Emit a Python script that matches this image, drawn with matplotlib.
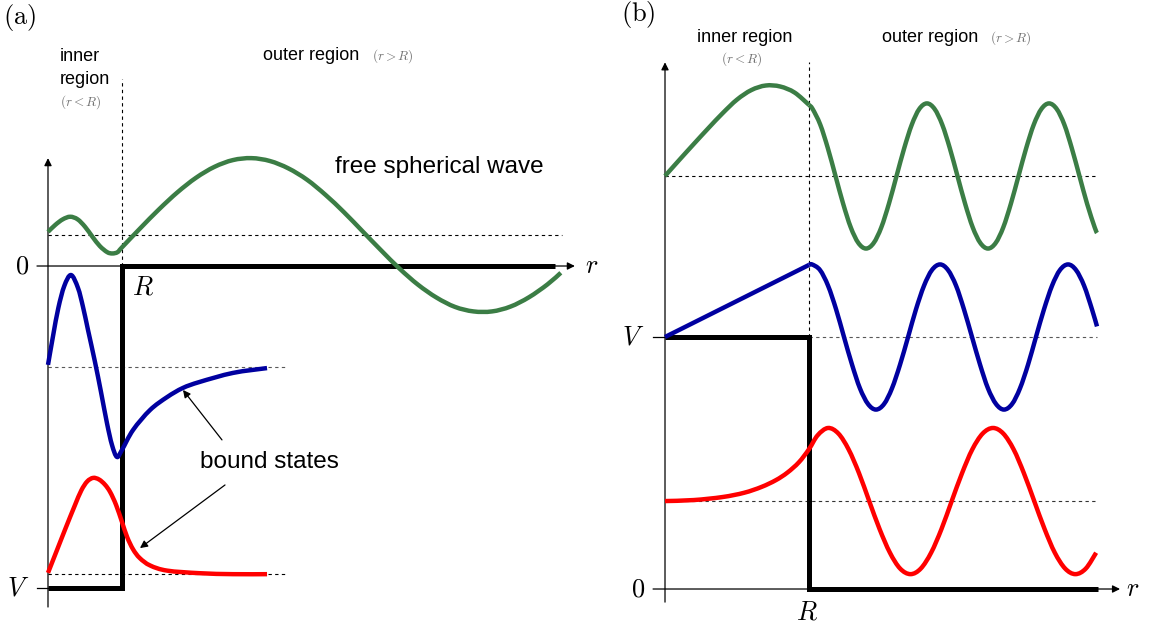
import numpy as np
import matplotlib
matplotlib.use("Agg")
import matplotlib.pyplot as plt
from matplotlib.path import Path
from matplotlib.patches import PathPatch

plt.rcParams['font.family'] = ['Liberation Sans', 'DejaVu Sans']
plt.rcParams['mathtext.fontset'] = 'cm'

# (a) 井戸型ポテンシャル: r は R 単位, 縦軸は V = -10
R_a = 1.0
V_a = -10.0
r_end_a = 6.85

# 自由球面波
E_green_a = 0.96
r_green_in = [0, 0.1, 0.2, 0.3, 0.4, 0.5, 0.6, 0.7, 0.8, 0.87, 0.94, 1.0]
psi_green_in = [1.06, 1.28, 1.45, 1.53, 1.45, 1.22, 0.91, 0.62, 0.43, 0.39, 0.43, 0.58]
r_green_out = [1.0, 1.25, 1.5, 1.75, 2.0, 2.25, 2.5, 2.75, 3.0, 3.25, 3.5, 3.75, 4.0,
               4.25, 4.5, 4.75, 5.0, 5.25, 5.5, 5.75, 6.0, 6.25, 6.5, 6.75, 6.93]
psi_green_out = [0.58, 1.18, 1.76, 2.29, 2.74, 3.08, 3.29, 3.35, 3.26, 3.03, 2.68, 2.21, 1.67,
                 1.08, 0.49, -0.08, -0.58, -0.98, -1.27, -1.41, -1.41, -1.26, -0.97, -0.57, -0.21]

# 束縛状態
E_blue_a = -3.14
r_blue = [0, 0.07, 0.14, 0.22, 0.311, 0.405, 0.473, 0.541, 0.635, 0.716, 0.797, 0.865, 0.932,
          1.0, 1.15, 1.38, 1.61, 1.82, 2.05, 2.5, 2.96]
psi_blue = [-3.07, -2.15, -1.30, -0.62, -0.28, -0.68, -1.27, -1.99, -2.98, -3.91, -4.88, -5.56, -5.93,
            -5.71, -5.09, -4.47, -4.07, -3.79, -3.60, -3.32, -3.17]

E_red_a = -9.57
r_red = [0, 0.12, 0.24, 0.36, 0.45, 0.53, 0.61, 0.69, 0.77, 0.84, 0.92, 1.0, 1.07, 1.15, 1.24,
         1.38, 1.61, 2.05, 2.5, 2.96]
psi_red = [-9.53, -8.83, -8.13, -7.45, -6.97, -6.69, -6.58, -6.63, -6.79, -7.02, -7.42, -7.95,
           -8.42, -8.80, -9.07, -9.30, -9.46, -9.54, -9.57, -9.57]

# (b) 障壁ポテンシャル: V = 10
R_b = 1.0
V_b = 10.0
r_end_b = 3.007

E_green_b = 16.39
r_green_b_in = [0, 0.1, 0.2, 0.3, 0.4, 0.5, 0.6, 0.7, 0.8, 0.9, 1.0]
psi_green_b_in = [16.39, 17.03, 17.66, 18.28, 18.88, 19.42, 19.80, 19.98, 19.94, 19.70, 19.21]
r_green_b_out = [1.0, 1.025, 1.078, 1.131, 1.184, 1.237, 1.290, 1.343, 1.396, 1.449, 1.502, 1.555,
                 1.608, 1.661, 1.714, 1.766, 1.819, 1.872, 1.925, 1.978, 2.031, 2.084, 2.137,
                 2.190, 2.243, 2.296, 2.349, 2.402, 2.455, 2.508, 2.561, 2.614, 2.667, 2.720,
                 2.773, 2.825, 2.878, 2.931, 2.984, 3.0]
psi_green_b_out = [19.21, 19.05, 18.43, 17.49, 16.39, 15.29, 14.35, 13.73, 13.51, 13.73, 14.35, 15.29,
                   16.39, 17.49, 18.43, 19.05, 19.27, 19.05, 18.43, 17.49, 16.39, 15.29, 14.35,
                   13.73, 13.51, 13.73, 14.35, 15.29, 16.39, 17.49, 18.43, 19.05, 19.27, 19.05,
                   18.43, 17.49, 16.39, 15.29, 14.35, 14.13]

r_blue_b_in = [0, 1.0]
psi_blue_b_in = [10.0, 12.86]
r_blue_b_out = [1.0, 1.021, 1.076, 1.132, 1.188, 1.243, 1.299, 1.354, 1.410, 1.465, 1.521, 1.576,
                1.632, 1.688, 1.743, 1.799, 1.854, 1.910, 1.965, 2.021, 2.076, 2.132, 2.188,
                2.243, 2.299, 2.354, 2.410, 2.465, 2.521, 2.576, 2.632, 2.688, 2.743, 2.799,
                2.854, 2.910, 2.965, 3.0]
psi_blue_b_out = [12.86, 12.88, 12.66, 12.04, 11.10, 10.00, 8.90, 7.96, 7.34, 7.12, 7.34, 7.96,
                  8.90, 10.00, 11.10, 12.04, 12.66, 12.88, 12.66, 12.04, 11.10, 10.00, 8.90,
                  7.96, 7.34, 7.12, 7.34, 7.96, 8.90, 10.00, 11.10, 12.04, 12.66, 12.88,
                  12.66, 12.04, 11.10, 10.42]

E_red_b = 3.49
r_red_b = [0, 0.2, 0.4, 0.55, 0.67, 0.77, 0.85, 0.93, 1.0,
           1.060, 1.132, 1.204, 1.275, 1.347, 1.418, 1.490, 1.562, 1.633, 1.705, 1.776,
           1.848, 1.920, 1.991, 2.063, 2.134, 2.206, 2.278, 2.349, 2.421, 2.492, 2.564,
           2.636, 2.707, 2.779, 2.850, 2.922, 2.994]
psi_red_b = [3.49, 3.53, 3.65, 3.82, 4.05, 4.32, 4.62, 5.03, 5.55,
             6.10, 6.39, 6.17, 5.54, 4.60, 3.49, 2.38, 1.44, 0.81, 0.59, 0.81, 1.44,
             2.38, 3.49, 4.60, 5.54, 6.17, 6.39, 6.17, 5.54, 4.60, 3.49, 2.38, 1.44,
             0.81, 0.59, 0.81, 1.44]

green = '#3b7d45'
blue = '#0000a0'
red = '#ff0000'
lw_psi = 3.2
lw_pot = 3.6
dash = (0, (3, 3))


def smooth_curve(ax, r, psi, color):
    # 点列を通る3次ベジェ曲線 (Catmull-Rom) で描く
    pts = np.column_stack([r, psi]).astype(float)
    ext = np.vstack([pts[0], pts, pts[-1]])
    verts = [pts[0]]
    for i in range(len(pts) - 1):
        p0, p1, p2, p3 = ext[i], ext[i + 1], ext[i + 2], ext[i + 3]
        verts += [p1 + (p2 - p0) / 6, p2 - (p3 - p1) / 6, p2]
    codes = [Path.MOVETO] + [Path.CURVE4] * (3 * (len(pts) - 1))
    ax.add_patch(PathPatch(Path(verts, codes), fill=False, edgecolor=color, lw=lw_psi,
                           capstyle='butt', joinstyle='round', zorder=4))


fig = plt.figure(figsize=(11.52, 6.32), dpi=100)
ax_a = fig.add_axes([0, 0, 600 / 1152, 1])
ax_b = fig.add_axes([600 / 1152, 0, 552 / 1152, 1])
for ax in (ax_a, ax_b):
    ax.axis('off')
ax_a.set_xlim(-0.6486, 7.4595)
ax_a.set_ylim(-11.366, 8.261)
ax_b.set_xlim(-0.4514, 3.3819)
ax_b.set_ylim(-1.706, 23.373)

arrow = dict(arrowstyle='-|>', color='k', lw=0.9, mutation_scale=11, shrinkA=0, shrinkB=0)


def axis_arrow(ax, start, end):
    ax.annotate('', xy=end, xytext=start, arrowprops=arrow)


# ---------------- (a) ----------------
ax = ax_a
axis_arrow(ax, (0, -10.59), (0, 3.35))
axis_arrow(ax, (-0.149, 0), (7.12, 0))
ax.plot([-0.149, 0], [V_a, V_a], color='k', lw=0.9)

ax.plot([0, R_a, R_a, r_end_a], [V_a, V_a, 0, 0], color='k', lw=lw_pot,
        solid_joinstyle='miter', solid_capstyle='butt', zorder=3)
ax.plot([R_a, R_a], [0, 5.81], color='k', lw=0.8, ls=dash)

ax.plot([0, 6.95], [E_green_a, E_green_a], color='k', lw=0.8, ls=dash)
ax.plot([0, 3.2], [E_blue_a, E_blue_a], color='0.35', lw=0.8, ls=dash)
ax.plot([0, 3.2], [E_red_a, E_red_a], color='k', lw=0.8, ls=dash)

smooth_curve(ax, r_green_in + r_green_out[1:], psi_green_in + psi_green_out[1:], green)
smooth_curve(ax, r_blue, psi_blue, blue)
smooth_curve(ax, r_red, psi_red, red)

ax.annotate('', xy=(1.824, -3.85), xytext=(2.351, -5.40), arrowprops=arrow)
ax.annotate('', xy=(1.243, -8.76), xytext=(2.392, -6.80), arrowprops=arrow)

ax.text(-0.378, 7.73, r'$(\mathrm{a})$', fontsize=19, ha='center', va='center')
ax.text(-0.35, 0, r'$0$', fontsize=19, ha='center', va='center')
ax.text(-0.405, V_a, r'$V$', fontsize=19, ha='center', va='center')
ax.text(1.284, -0.68, r'$R$', fontsize=19, ha='center', va='center')
ax.text(7.35, 0, r'$r$', fontsize=19, ha='center', va='center')

ax.text(0.162, 6.52, 'inner', fontsize=13, ha='left', va='center')
ax.text(0.162, 5.78, 'region', fontsize=13, ha='left', va='center')
ax.text(0.162, 5.09, r'$(r<R)$', fontsize=9.5, color='0.45', ha='left', va='center')
ax.text(2.905, 6.55, 'outer region', fontsize=13, ha='left', va='center')
ax.text(4.378, 6.52, r'$(r>R)$', fontsize=9.5, color='0.45', ha='left', va='center')
ax.text(3.878, 3.07, 'free spherical wave', fontsize=17.5, ha='left', va='center')
ax.text(2.054, -6.09, 'bound states', fontsize=17.5, ha='left', va='center')

# ---------------- (b) ----------------
ax = ax_b
axis_arrow(ax, (0, -0.52), (0, 20.9))
axis_arrow(ax, (-0.083, 0), (3.16, 0))
ax.plot([-0.083, 0], [V_b, V_b], color='k', lw=0.9)

ax.plot([0, R_b, R_b, r_end_b], [V_b, V_b, 0, 0], color='k', lw=lw_pot,
        solid_joinstyle='miter', solid_capstyle='butt', zorder=3)
ax.plot([R_b, R_b], [V_b, 20.9], color='k', lw=0.8, ls=dash)

ax.plot([0, 3.0], [E_green_b, E_green_b], color='k', lw=0.8, ls=dash)
ax.plot([R_b, 3.0], [V_b, V_b], color='0.35', lw=0.8, ls=dash)
ax.plot([0, 3.0], [E_red_b, E_red_b], color='0.2', lw=0.8, ls=dash)

# r = R で内側と外側の解をつなぐ
smooth_curve(ax, r_green_b_in, psi_green_b_in, green)
smooth_curve(ax, r_green_b_out, psi_green_b_out, green)
smooth_curve(ax, r_blue_b_in, psi_blue_b_in, blue)
smooth_curve(ax, r_blue_b_out, psi_blue_b_out, blue)
smooth_curve(ax, r_red_b, psi_red_b, red)

ax.text(-0.1875, 22.78, r'$(\mathrm{b})$', fontsize=19, ha='center', va='center')
ax.text(-0.1875, 0, r'$0$', fontsize=19, ha='center', va='center')
ax.text(-0.222, V_b, r'$V$', fontsize=19, ha='center', va='center')
ax.text(0.986, -0.95, r'$R$', fontsize=19, ha='center', va='center')
ax.text(3.25, 0, r'$r$', fontsize=19, ha='center', va='center')

ax.text(0.552, 21.9, 'inner region', fontsize=13, ha='center', va='center')
ax.text(0.535, 21.03, r'$(r<R)$', fontsize=9.5, color='0.45', ha='center', va='center')
ax.text(1.507, 21.9, 'outer region', fontsize=13, ha='left', va='center')
ax.text(2.257, 21.87, r'$(r>R)$', fontsize=9.5, color='0.45', ha='left', va='center')

fig.savefig('out.png', dpi=100)
